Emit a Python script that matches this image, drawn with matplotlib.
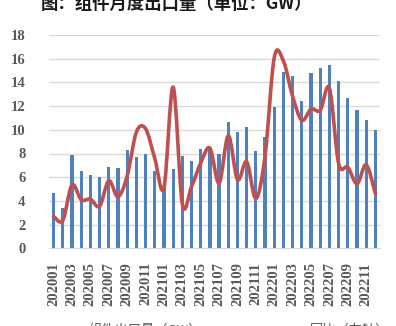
import numpy as np
import matplotlib.pyplot as plt
from matplotlib.path import Path
from matplotlib.patches import PathPatch

plt.rcParams['font.family'] = ['Noto Sans CJK SC', 'DejaVu Sans']

# monthly module exports, 2020-01 .. 2022-12
months = [f"{y}{m:02d}" for y in (2020, 2021, 2022) for m in range(1, 13)]
exports = [4.7, 3.4, 7.9, 6.5, 6.2, 6.0, 6.9, 6.8, 8.3, 7.7, 8.0, 6.5,
           5.2, 6.7, 7.8, 7.4, 8.4, 8.5, 8.0, 10.7, 9.8, 10.2, 8.2, 9.4,
           11.9, 14.9, 14.5, 12.4, 14.8, 15.2, 15.5, 14.1, 12.7, 11.7, 10.8, 10.0]
# second series (red curve), in left-axis units
curve = [2.7, 2.35, 5.35, 4.1, 4.15, 3.55, 5.7, 4.35, 6.1, 9.8, 10.1, 7.6,
         5.1, 13.6, 3.75, 5.2, 7.2, 8.45, 5.5, 9.5, 5.8, 7.3, 4.2, 7.8,
         16.1, 15.8, 12.8, 10.8, 11.75, 11.65, 13.5, 7.15, 6.85, 5.45, 7.05, 4.6]
legend_labels = ['组件出口量（GW）', '同比（右轴）']

blue = '#4F81BD'
red = '#C0504D'
grey = '#595959'

fig = plt.figure(figsize=(3.96, 3.26), dpi=100)
ax = fig.add_axes([49/396, 1 - 248.3/326, 331/396, 213.3/326])

x = np.arange(len(months))
ax.bar(x, exports, width=0.35, color=blue, zorder=2)

# smoothed line: cubic bezier segments through the points
pts = np.column_stack([x, curve]).astype(float)
ext = np.vstack([pts[0], pts, pts[-1]])
verts = [tuple(pts[0])]
codes = [Path.MOVETO]
for i in range(len(pts) - 1):
    p0, p1, p2, p3 = ext[i], ext[i + 1], ext[i + 2], ext[i + 3]
    c1 = p1 + (p2 - p0) / 6
    c2 = p2 - (p3 - p1) / 6
    verts += [tuple(c1), tuple(c2), tuple(p2)]
    codes += [Path.CURVE4] * 3
ax.add_patch(PathPatch(Path(verts, codes), facecolor='none', edgecolor=red,
                       lw=2.6, capstyle='round', joinstyle='round', zorder=3))

ax.set_xlim(-0.5, len(months) - 0.5)
ax.set_ylim(0, 18)
ax.set_yticks(range(0, 19, 2))
ax.grid(axis='y', color='#D9D9D9', lw=1, zorder=0)
for s in ['left', 'right', 'top']:
    ax.spines[s].set_visible(False)
ax.spines['bottom'].set_color('#D9D9D9')

ax.set_xticks(x[::2])
ax.set_xticklabels(months[::2], rotation=90)
ax.tick_params(axis='both', length=0, colors=grey)
ax.tick_params(axis='y', pad=17)
ax.tick_params(axis='x', pad=10)
for lab in ax.get_yticklabels() + ax.get_xticklabels():
    lab.set_family('Liberation Serif')
    lab.set_fontweight('bold')
    lab.set_fontsize(10.5)

fig.text(177/396, 1 - 4/326, '图：组件月度出口量（单位：GW）', ha='center', va='center',
         fontsize=12.5, fontweight='bold', color='#1a1a1a')

# legend row sits at the bottom edge
fig.text(145/396, 1 - 330/326, legend_labels[0], ha='center', va='center',
         fontsize=9.5, color=grey)
fig.text(350/396, 1 - 330/326, legend_labels[1], ha='center', va='center',
         fontsize=9.5, color=grey)

fig.savefig('out.png', dpi=100)
